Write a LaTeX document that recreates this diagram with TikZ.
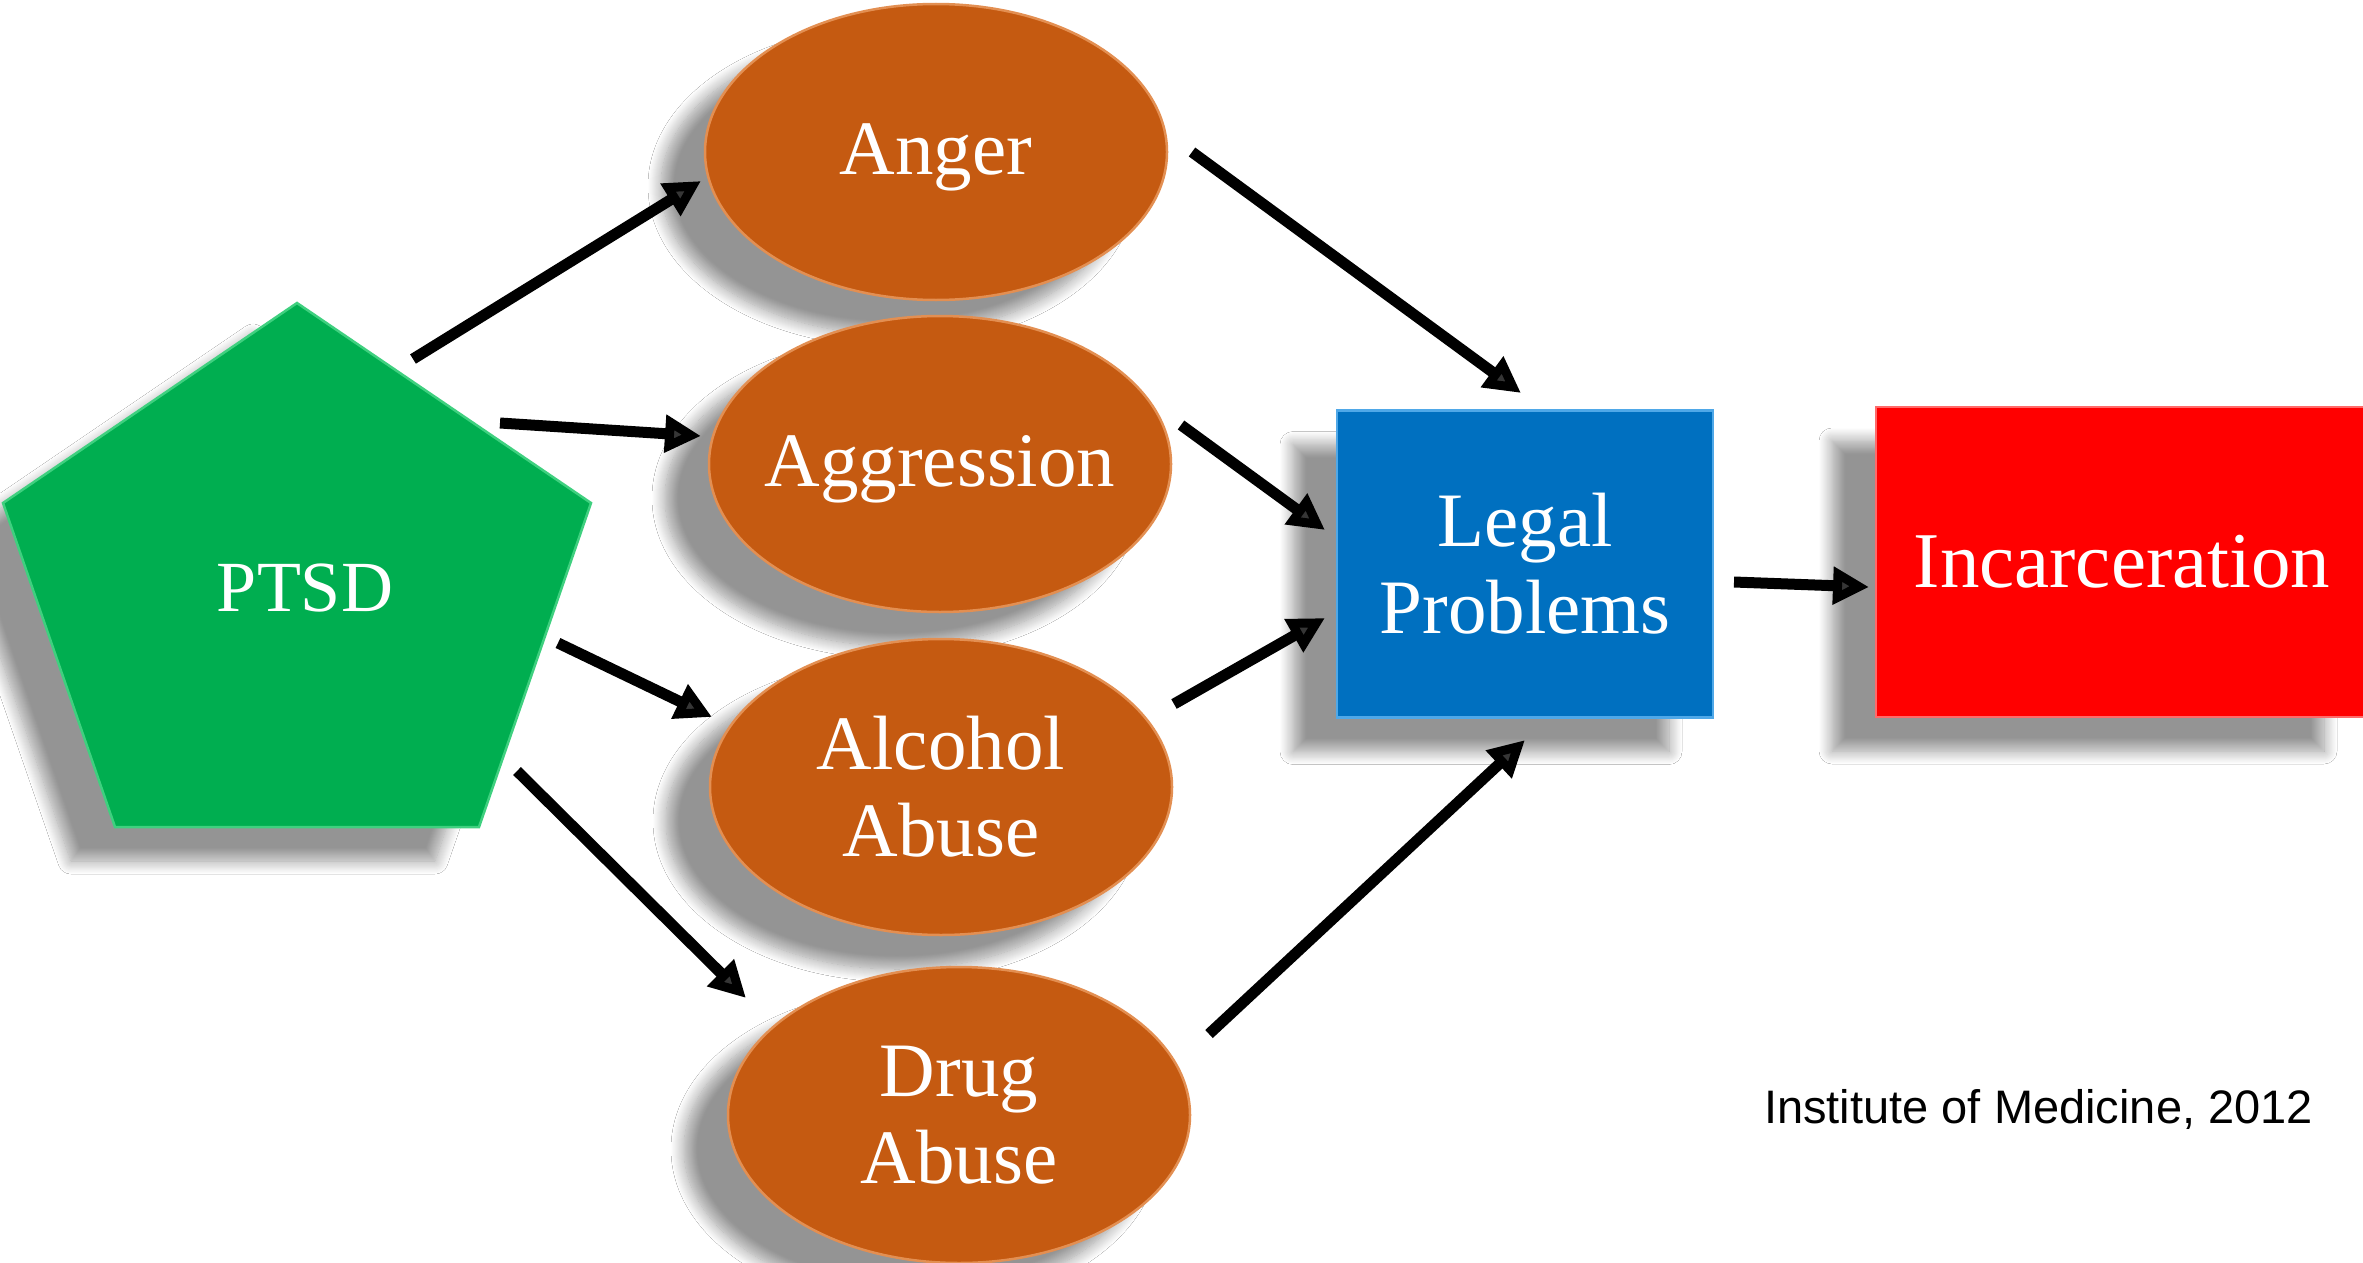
\documentclass[tikz,border=0pt]{standalone}
\usepackage{fontspec}
\setmainfont{Liberation Serif}
\newfontfamily\citefont{Liberation Sans}
\usetikzlibrary{shapes.geometric,arrows.meta,shadows.blur}
\definecolor{pgreen}{HTML}{00AE50}
\definecolor{pgreenL}{HTML}{3FD07F}
\definecolor{orng}{HTML}{C55A11}
\definecolor{orngL}{HTML}{E38F52}
\definecolor{lblue}{HTML}{0070C0}
\definecolor{lblueL}{HTML}{4FA8E8}
\definecolor{ired}{HTML}{FF0000}
\definecolor{iredL}{HTML}{FF6A6A}
\tikzset{
  shad/.style={blur shadow={shadow xshift=-44pt, shadow yshift=-34pt, shadow blur radius=13pt, shadow blur steps=14, shadow opacity=42}},
  lbl/.style={text=white, font=\fontsize{77}{87}\selectfont, align=center},
  emo/.style={ellipse, shad, fill=orng, draw=orngL, line width=2.5pt, minimum width=462pt, minimum height=296pt, inner sep=0pt, outer sep=0pt},
  boxn/.style={rectangle, shad, line width=2.5pt, inner sep=0pt, lbl},
  arr/.style={line width=11pt, line cap=butt, -{Triangle[length=36pt,width=36pt]}},
}
\begin{document}
\begin{tikzpicture}[x=1pt,y=-1pt]
\useasboundingbox (0,0) rectangle (2363,1263);
\fill[white] (0,0) rectangle (2363,1263);
% PTSD pentagon
\coordinate (pt) at (297,303);
\coordinate (pr) at (591,503);
\coordinate (pbr) at (479,827);
\coordinate (pbl) at (115,827);
\coordinate (pl) at (3,503);
\path[fill=pgreen, draw=pgreenL, line width=2.5pt, line join=miter, shad] (pt) -- (pr) -- (pbr) -- (pbl) -- (pl) -- cycle;
\node[lbl, font=\fontsize{72}{87}\selectfont] (ptsd) at (305,588) {PTSD};
% ellipses
\node[emo, label={[lbl, yshift=-5pt]center:Anger}] (anger) at (936,152) {};
\node[emo, label={[lbl, yshift=-5pt]center:Aggression}] (aggr) at (940,464) {};
\node[emo, label={[lbl]center:Alcohol\\Abuse}] (alc) at (941,787) {};
\node[emo, label={[lbl]center:Drug\\Abuse}] (drug) at (959,1115) {};
% boxes
\node[boxn, fill=lblue, draw=lblueL, minimum width=376pt, minimum height=307pt] (legal) at (1525,564) {Legal\\Problems};
\node[boxn, fill=ired, draw=iredL, minimum width=492pt, minimum height=310pt, font=\fontsize{79}{87}\selectfont] (inc) at (2122,562) {Incarceration};
% citation
\node[anchor=base west, inner sep=0pt, font=\citefont\fontsize{47}{55}\selectfont] (cite) at (1764,1123) {Institute of Medicine, 2012};
% arrow end points
\coordinate (a1s) at (413,359);  \coordinate (a1e) at (701,181);
\coordinate (a2s) at (500,423);  \coordinate (a2e) at (701,436);
\coordinate (a3s) at (558,643);  \coordinate (a3e) at (712,717);
\coordinate (a4s) at (517,771);  \coordinate (a4e) at (746,998);
\coordinate (a5s) at (1192,152); \coordinate (a5e) at (1521,393);
\coordinate (a6s) at (1181,425); \coordinate (a6e) at (1325,530);
\coordinate (a7s) at (1174,704); \coordinate (a7e) at (1325,618);
\coordinate (a8s) at (1209,1034);\coordinate (a8e) at (1525,740);
\coordinate (a9s) at (1734,582); \coordinate (a9e) at (1869,587);
\draw[arr] (a1s) -- (a1e);
\draw[arr] (a2s) -- (a2e);
\draw[arr] (a3s) -- (a3e);
\draw[arr] (a4s) -- (a4e);
\draw[arr] (a5s) -- (a5e);
\draw[arr] (a6s) -- (a6e);
\draw[arr] (a7s) -- (a7e);
\draw[arr] (a8s) -- (a8e);
\draw[arr] (a9s) -- (a9e);
\end{tikzpicture}
\end{document}
